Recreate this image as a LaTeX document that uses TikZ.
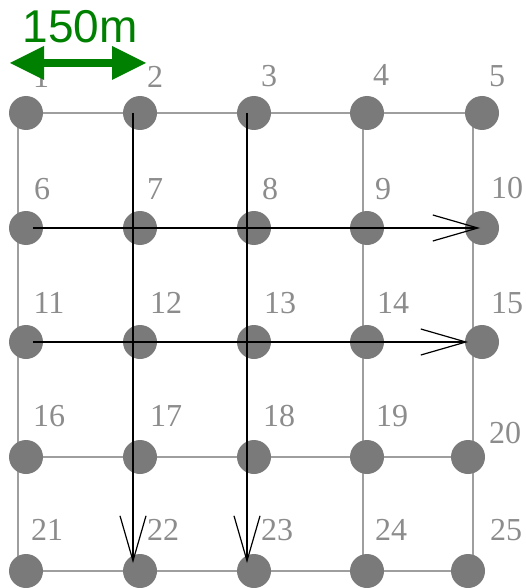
\documentclass[tikz,border=0pt]{standalone}
\usepackage{fontspec}
\setmainfont{Liberation Serif}
\newfontfamily\arialf{Liberation Sans}
\usetikzlibrary{arrows.meta}
\definecolor{dotgrey}{HTML}{7A7A7A}
\definecolor{labgrey}{HTML}{8C8C8C}
\definecolor{linegrey}{HTML}{9E9E9E}
\definecolor{scalegreen}{HTML}{008000}
\begin{document}
\begin{tikzpicture}[x=1pt,y=-1pt,
  dot/.style={circle,fill=dotgrey,minimum size=34pt,inner sep=0pt},
  lab/.style={text=labgrey,font=\fontsize{32}{36}\selectfont,inner sep=0pt},
  gridline/.style={draw=linegrey,line width=2pt},
  route/.style={draw=black,line width=2pt,-{Straight Barb[length=45pt,width=26pt,line width=1.2pt]}},
  scalebar/.style={draw=scalegreen,line width=8pt,{Triangle[length=34pt,width=34pt,line width=0pt]}-{Triangle[length=34pt,width=34pt,line width=0pt]}}]
\useasboundingbox (0,0) rectangle (525,588);
% grid line coordinates
\foreach \n/\x in {a/18,b/133,c/247,d/363,e/473}{
  \coordinate (t\n) at (\x,113);
  \coordinate (b\n) at (\x,571);
}
\foreach \n/\y in {1/113,2/228,3/342,4/457,5/571}{
  \coordinate (l\n) at (18,\y);
  \coordinate (r\n) at (473,\y);
}
\foreach \n in {a,b,c,d,e} \draw[gridline] (t\n) -- (b\n);
\foreach \n in {1,...,5} \draw[gridline] (l\n) -- (r\n);
% dots
\foreach \i/\x/\y in {1/26/113,2/140/113,3/254/113,4/367/113,5/482/113,
  6/26/228,7/140/228,8/254/228,9/367/228,10/482/228,
  11/26/342,12/140/342,13/254/342,14/367/342,15/482/342,
  16/26/457,17/140/457,18/254/457,19/367/457,20/468/457,
  21/26/571,22/140/571,23/254/571,24/367/571,25/468/571}{
  \node[dot] (n\i) at (\x,\y) {};
}
% labels
\foreach \i/\x/\y in {1/41/77,2/155/77,3/269/76,4/381/75,5/497/76,
  6/42/189,7/155/189,8/270/189,9/383/189,10/507/188,
  11/49/303,12/166/303,13/280/303,14/393/303,15/507/303,
  16/49/416,17/166/416,18/279/416,19/392/416,20/505/433,
  21/47/530,22/163/530,23/277/530,24/391/530,25/506/530}{
  \node[lab] (lab\i) at (\x,\y) {\i};
}
% routes
\coordinate (s2) at (133,113);
\coordinate (e2) at (133,563);
\coordinate (s3) at (247,113);
\coordinate (e3) at (247,563);
\coordinate (s6) at (33,228);
\coordinate (e6) at (480,228);
\coordinate (s11) at (33,342);
\coordinate (e11) at (468,342);
\draw[route] (s2) -- (e2);
\draw[route] (s3) -- (e3);
\draw[route] (s6) -- (e6);
\draw[route] (s11) -- (e11);
% scale
\coordinate (sl) at (10,63);
\coordinate (sr) at (146,63);
\draw[scalebar] (sl) -- (sr);
\node[text=scalegreen,font=\arialf\fontsize{46}{50}\selectfont,inner sep=0pt,anchor=base] (scale) at (80,43) {150m};
\end{tikzpicture}
\end{document}
